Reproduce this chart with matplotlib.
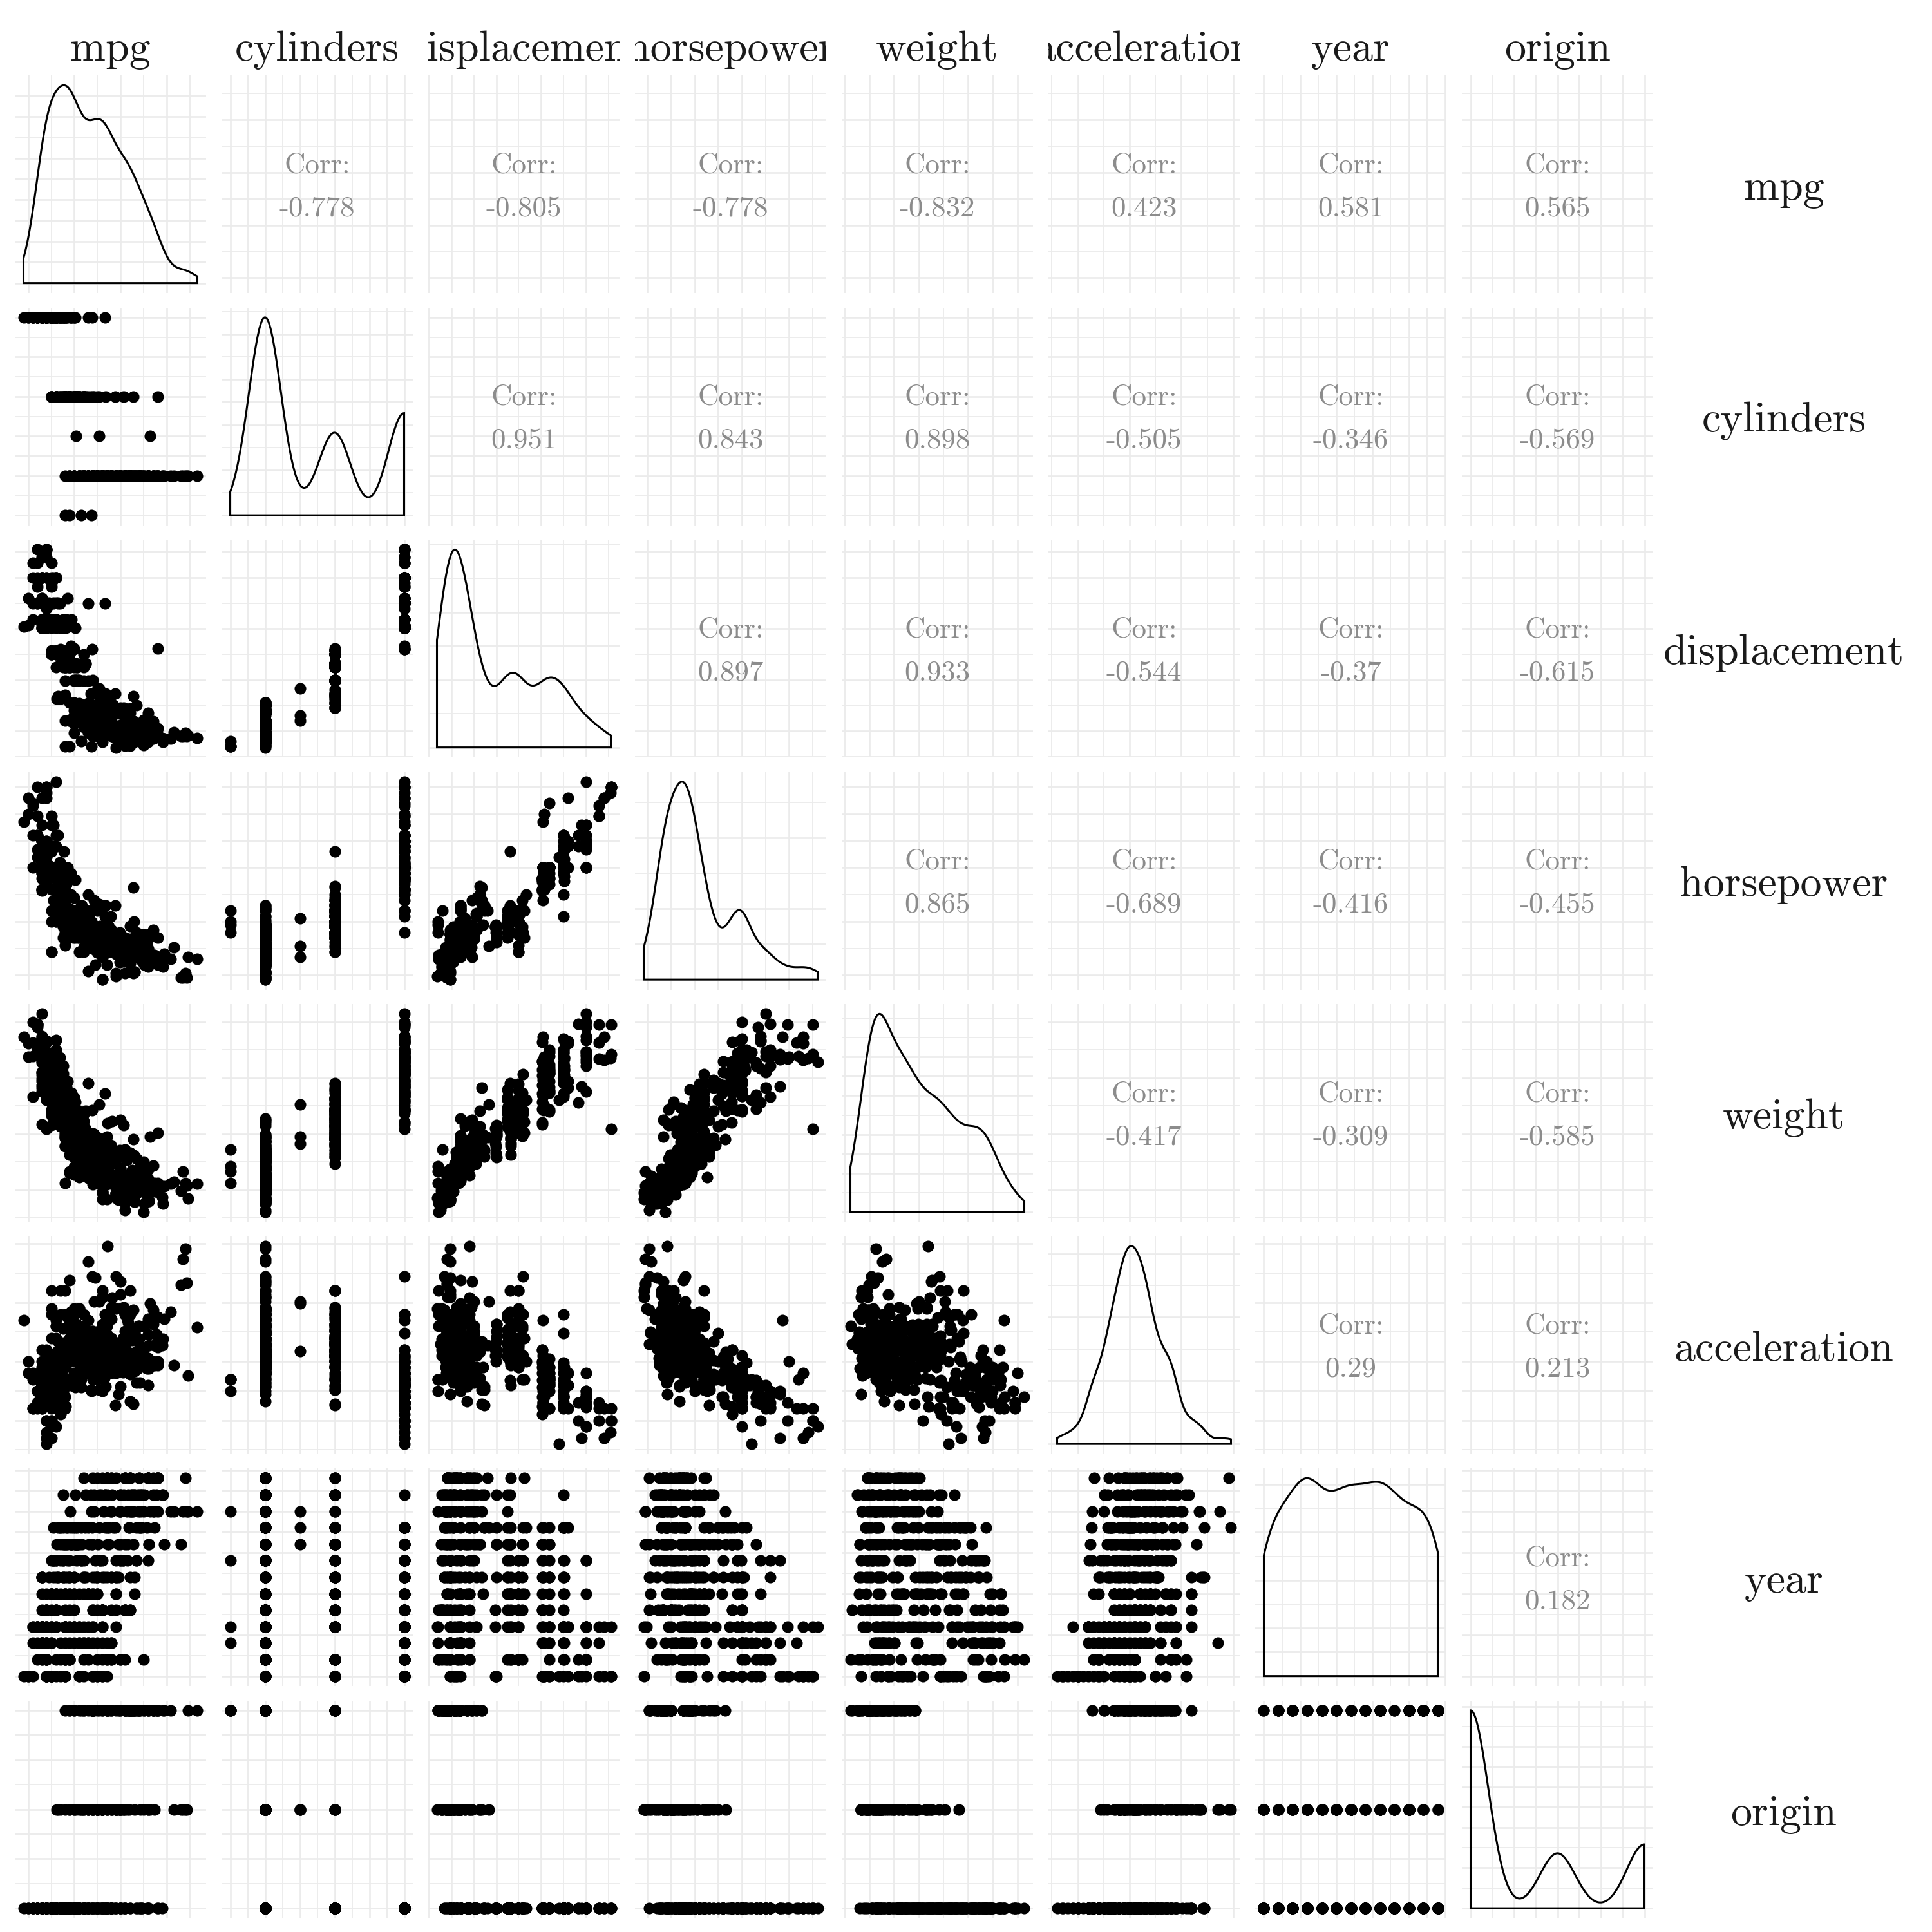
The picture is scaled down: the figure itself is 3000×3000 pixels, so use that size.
import numpy as np
import matplotlib
matplotlib.use('Agg')
import matplotlib.pyplot as plt
from matplotlib.ticker import MaxNLocator

# LaTeX-like look (Computer Modern ships with matplotlib)
plt.rcParams['font.family'] = 'cmr10'
plt.rcParams['axes.formatter.use_mathtext'] = True

#************************** data (Auto MPG, one line per model year) ***************************
variables = ['mpg', 'cylinders', 'displacement', 'horsepower', 'weight',
             'acceleration', 'year', 'origin']

mpg = [
    18,15,18,16,17,15,14,14,14,15,15,14,15,14,24,22,18,21,27,26,25,24,25,26,21,10,10,11,9,
    27,28,25,19,16,17,19,18,14,14,14,14,12,13,13,18,22,19,18,23,28,30,30,31,35,27,26,
    24,25,23,20,21,13,14,15,14,17,11,13,12,13,19,15,13,13,14,18,22,21,26,22,28,23,28,27,
    13,14,13,14,15,12,13,13,14,13,12,13,18,16,18,18,23,26,11,12,13,12,18,20,21,22,18,19,21,26,15,16,29,24,20,19,15,24,20,11,
    20,19,15,31,26,32,25,16,16,18,16,13,14,14,14,29,26,26,31,32,28,24,26,24,26,31,
    19,18,15,15,16,15,16,14,17,16,15,18,21,20,13,29,23,20,23,24,25,24,18,29,19,23,23,22,25,33,
    28,25,25,26,27,17.5,16,15.5,14.5,22,22,24,22.5,29,24.5,29,33,20,18,18.5,17.5,29.5,32,28,26.5,20,13,19,19,16.5,16.5,13,13,13,
    31.5,30,36,25.5,33.5,17.5,17,15.5,15,17.5,20.5,19,18.5,16,15.5,15.5,16,29,24.5,26,25.5,30.5,33.5,30,30.5,22,21.5,21.5,
    43.1,36.1,32.8,39.4,36.1,19.9,19.4,20.2,19.2,20.5,20.2,25.1,20.5,19.4,20.6,20.8,18.6,18.1,19.2,17.7,18.1,17.5,30,27.5,27.2,30.9,21.1,23.2,23.8,23.9,20.3,17,21.6,16.2,31.5,29.5,
    21.5,19.8,22.3,20.2,20.6,17,17.6,16.5,18.2,16.9,15.5,19.2,18.5,31.9,34.1,35.7,27.4,25.4,23,27.2,23.9,34.2,34.5,31.8,37.3,28.4,28.8,26.8,33.5,
    41.5,38.1,32.1,37.2,28,26.4,24.3,19.1,34.3,29.8,31.3,37,32.2,46.6,27.9,40.8,44.3,43.4,36.4,30,44.6,33.8,29.8,32.7,23.7,35,32.4,
    27.2,26.6,25.8,23.5,30,39.1,39,35.1,32.3,37,37.7,34.1,34.7,34.4,29.9,33,33.7,32.4,32.9,31.6,28.1,30.7,25.4,24.2,22.4,26.6,20.2,17.6,
    28,27,34,31,29,27,24,36,37,31,38,36,36,36,34,38,32,38,25,38,26,22,32,36,27,27,44,32,28,31]

cylinders = [
    8,8,8,8,8,8,8,8,8,8,8,8,8,8,4,6,6,6,4,4,4,4,4,4,6,8,8,8,8,
    4,4,4,6,6,6,6,6,8,8,8,8,8,8,8,6,4,6,6,4,4,4,4,4,4,4,4,
    4,4,4,4,4,8,8,8,8,8,8,8,8,8,3,8,8,8,8,4,4,4,4,4,4,4,4,4,
    8,8,8,8,8,8,8,8,8,8,8,8,6,6,6,6,6,4,8,8,8,8,6,4,4,4,3,4,6,4,8,8,4,4,4,4,8,4,6,8,
    6,6,6,4,4,4,4,6,6,6,8,8,8,8,8,4,4,4,4,4,4,4,4,4,4,4,
    6,6,6,6,8,8,8,8,6,6,6,6,6,8,8,4,4,6,4,4,4,4,6,4,6,4,4,4,4,4,
    4,4,4,4,4,8,8,8,8,6,6,6,6,4,4,4,4,6,6,6,6,4,4,4,4,4,8,4,6,6,8,8,8,8,
    4,4,4,4,4,8,8,8,8,6,6,6,6,8,8,8,8,4,4,4,4,4,4,4,4,6,4,3,
    4,4,4,4,4,8,8,8,6,6,6,4,6,6,6,6,6,6,8,6,8,8,4,4,4,4,4,4,4,4,5,6,4,6,4,4,
    6,6,4,6,6,8,8,8,8,8,8,8,8,4,4,4,4,5,8,4,8,4,4,4,4,4,6,6,4,
    4,4,4,4,4,4,4,6,4,4,4,4,4,4,4,4,4,4,5,4,4,4,4,6,3,4,4,
    4,4,4,6,4,4,4,4,4,4,4,4,4,4,4,4,4,4,4,4,4,6,6,6,6,8,6,6,
    4,4,4,4,4,4,4,4,4,4,4,4,4,4,4,4,4,4,6,6,4,6,4,4,4,4,4,4,4,4]

displacement = [
    307,350,318,304,302,429,454,440,455,390,383,340,400,455,113,198,199,200,97,97,110,107,104,121,199,360,307,318,304,
    97,140,113,232,225,250,250,232,350,400,351,318,383,400,400,258,140,250,250,122,116,79,88,71,72,97,91,
    113,97.5,97,140,122,350,400,318,351,304,429,350,350,400,70,304,307,302,318,121,121,120,96,122,97,120,98,97,
    350,304,350,302,318,429,400,351,318,440,455,360,225,250,232,250,198,97,400,400,360,350,232,97,140,108,70,122,155,98,350,400,68,116,114,121,318,121,156,350,
    198,232,250,79,122,71,140,250,258,225,302,350,318,302,304,98,79,97,76,83,90,90,116,120,108,79,
    225,250,250,250,400,350,318,351,231,250,258,225,231,262,302,97,140,232,140,134,90,119,171,90,232,115,120,121,121,91,
    107,116,140,98,101,305,318,304,351,225,250,200,232,85,98,90,91,225,250,250,258,97,85,97,140,130,318,120,156,168,350,350,302,318,
    98,111,79,122,85,305,260,318,302,250,231,225,250,400,350,400,351,97,151,97,140,98,98,97,97,146,121,80,
    90,98,78,85,91,260,318,302,231,200,200,140,225,232,231,200,225,258,305,231,302,318,98,134,119,105,134,156,151,119,131,163,121,163,89,98,
    231,200,140,232,225,305,302,351,318,350,351,267,360,89,86,98,121,183,350,141,260,105,105,85,91,151,173,173,151,
    98,89,98,86,151,140,151,225,97,134,120,119,108,86,156,85,90,90,121,146,91,97,89,168,70,122,107,
    135,151,156,173,135,79,86,81,97,85,89,91,105,98,98,105,107,108,119,120,141,145,168,146,231,350,200,225,
    112,112,112,112,135,151,140,105,91,91,105,98,120,107,108,91,91,91,181,262,156,232,144,135,151,140,97,135,120,119]

horsepower = [
    130,165,150,150,140,198,220,215,225,190,170,160,150,225,95,95,97,85,88,46,87,90,95,113,90,215,200,210,193,
    88,90,95,100,105,100,88,100,165,175,153,150,180,170,175,110,72,100,88,86,90,70,76,65,69,60,70,
    95,80,54,90,86,165,175,150,153,150,208,155,160,190,97,150,130,140,150,112,76,87,69,86,92,97,80,88,
    175,150,145,137,150,198,150,158,150,215,225,175,105,100,100,88,95,46,150,167,170,180,100,88,72,94,90,85,107,90,145,230,49,75,91,112,150,110,122,180,
    95,100,100,67,80,65,75,100,110,105,140,150,150,140,150,83,67,78,52,61,75,75,75,97,93,67,
    95,105,72,72,170,145,150,148,110,105,110,95,110,110,129,75,83,100,78,96,71,97,97,70,90,95,88,98,115,53,
    86,81,92,79,83,140,150,120,152,100,105,81,90,52,60,70,53,100,78,110,95,71,70,75,72,102,150,88,108,120,180,145,130,150,
    68,80,58,96,70,145,110,145,130,110,105,100,98,180,170,190,149,78,88,75,89,63,83,67,78,97,110,110,
    48,66,52,70,60,110,140,139,105,95,85,88,100,90,105,85,110,120,145,165,139,140,68,95,97,75,95,105,85,97,103,125,115,133,71,68,
    115,85,88,90,110,130,129,138,135,155,142,125,150,71,65,80,80,77,125,71,90,70,70,65,69,90,115,115,90,
    76,60,70,65,90,88,90,90,78,90,75,92,75,65,105,65,48,48,67,67,67,67,62,132,100,88,72,
    84,84,92,110,84,58,64,60,67,65,62,68,63,65,65,74,75,75,100,74,80,76,116,120,110,105,88,85,
    88,88,88,85,84,90,92,74,68,68,63,70,88,75,70,67,67,67,110,85,92,112,96,84,90,86,52,84,79,82]

weight = [
    3504,3693,3436,3433,3449,4341,4354,4312,4425,3850,3563,3609,3761,3086,2372,2833,2774,2587,2130,1835,2672,2430,2375,2234,2648,4615,4376,4382,4732,
    2130,2264,2228,2634,3439,3329,3302,3288,4209,4464,4154,4096,4955,4746,5140,2962,2408,3282,3139,2220,2123,2074,2065,1773,1613,1834,1955,
    2278,2126,2254,2408,2226,4274,4385,4135,4129,3672,4633,4502,4456,4422,2330,3892,4098,4294,4077,2933,2511,2979,2189,2395,2288,2506,2164,2100,
    4100,3672,3988,4042,3777,4952,4464,4363,4237,4735,4951,3821,3121,3278,2945,3021,2904,1950,4997,4906,4654,4499,2789,2279,2401,2379,2124,2310,2472,2265,4082,4278,1867,2158,2582,2868,3399,2660,2807,3664,
    3102,2901,3336,1950,2451,1836,2542,3781,3632,3613,4141,4699,4457,4638,4257,2219,1963,2300,1649,2003,2125,2108,2246,2489,2391,2000,
    3264,3459,3432,3158,4668,4440,4498,4657,3907,3897,3730,3785,3039,3221,3169,2171,2639,2914,2592,2702,2223,2545,2984,1937,3211,2694,2957,2945,2671,1795,
    2464,2220,2572,2255,2202,4215,4190,3962,4215,3233,3353,3012,3085,2035,2164,1937,1795,3651,3574,3645,3193,1825,1990,2155,2565,3150,3940,3270,2930,3820,4380,4055,3870,3755,
    2045,2155,1825,2300,1945,3880,4060,4140,4295,3520,3425,3630,3525,4220,4165,4325,4335,1940,2740,2265,2755,2051,2075,1985,2190,2815,2600,2720,
    1985,1800,1985,2070,1800,3365,3735,3570,3535,3155,2965,2720,3430,3210,3380,3070,3620,3410,3425,3445,3205,4080,2155,2560,2300,2230,2515,2745,2855,2405,2830,3140,2795,3410,1990,2135,
    3245,2990,2890,3265,3360,3840,3725,3955,3830,4360,4054,3605,3940,1925,1975,1915,2670,3530,3900,3190,3420,2200,2150,2020,2130,2670,2595,2700,2556,
    2144,1968,2120,2019,2678,2870,3003,3381,2188,2711,2542,2434,2265,2110,2800,2110,2085,2335,2950,3250,1850,2145,1845,2910,2420,2500,2290,
    2490,2635,2620,2725,2385,1755,1875,1760,2065,1975,2050,1985,2215,2045,2380,2190,2210,2350,2615,2635,3230,3160,2900,2930,3415,3725,3060,3465,
    2605,2640,2395,2575,2525,2735,2865,1980,2025,1970,2125,2125,2160,2205,2245,1965,1965,1995,2945,3015,2585,2835,2665,2370,2950,2790,2130,2295,2625,2720]

acceleration = [
    12,11.5,11,12,10.5,10,9,8.5,10,8.5,10,8,9.5,10,15,15.5,15.5,16,14.5,20.5,17.5,14.5,17.5,12.5,15,14,15,13.5,18.5,
    14.5,15.5,14,13,15.5,15.5,15.5,15.5,12,11.5,13.5,13,11.5,12,12,13.5,19,15,14.5,14,14,19.5,14.5,19,18,19,20.5,
    15.5,17,23.5,19.5,16.5,12,12,13.5,13,11.5,11,13.5,13.5,12.5,13.5,12.5,14,16,14,14.5,18,19.5,18,16,17,14.5,15,16.5,
    13,11.5,13,14.5,12.5,11.5,12,13,14.5,11,11,11,16.5,18,16,16.5,16,21,14,12.5,13,12.5,15,19,19.5,16.5,13.5,18.5,14,15.5,13,9.5,19.5,15.5,14,15.5,11,14,13.5,11,
    16.5,16,17,19,16.5,21,17,17,18,16.5,14,14.5,13.5,16,15.5,16.5,15.5,14.5,16.5,19,14.5,15.5,14,15,15.5,16,
    16,16,21,19.5,11.5,14,14.5,13.5,21,18.5,19,19,15,13.5,12,16,17,16,18.5,13.5,16.5,17,14.5,14,17,15,17,14.5,13.5,17.5,
    15.5,16.9,14.9,17.7,15.3,13,13,13.9,12.8,15.4,14.5,17.6,17.6,22.2,22.1,14.2,17.4,17.7,21,16.2,17.8,12.2,17,16.4,13.6,15.7,13.2,21.9,15.5,16.7,12.1,12,15,14,
    18.5,14.8,18.6,15.5,16.8,12.5,19,13.7,14.9,16.4,16.9,17.7,19,11.1,11.4,12.2,14.5,14.5,16,18.2,15.8,17,15.9,16.4,14.1,14.5,12.8,13.5,
    21.5,14.4,19.4,18.6,16.4,15.5,13.2,12.8,19.2,18.2,15.8,15.4,17.2,17.2,15.8,16.7,18.7,15.1,13.2,13.4,11.2,13.7,16.5,14.2,14.7,14.5,14.8,16.7,17.6,14.9,15.9,13.6,15.7,15.8,14.9,16.6,
    15.4,18.2,17.3,18.2,16.6,15.4,13.4,13.2,15.2,14.9,14.3,15,13,14,15.2,14.4,15,20.1,17.4,24.8,22.2,13.2,14.9,19.2,14.7,16,11.3,12.9,13.2,
    14.7,18.8,15.5,16.4,16.5,18.1,20.1,18.7,15.8,15.5,17.5,15,15.2,17.9,14.4,19.2,21.7,23.7,19.9,21.8,13.8,18,15.3,11.4,12.5,15.1,17,
    15.7,16.4,14.4,12.6,12.9,16.9,16.4,16.1,17.8,19.4,17.3,16,14.9,16.2,20.7,14.2,14.4,16.8,14.8,18.3,20.4,19.6,12.6,13.8,15.8,19,17.1,16.6,
    19.6,18.6,18,16.2,16,18,16.4,15.3,18.2,17.6,14.7,17.3,14.5,14.5,16.9,15,15.7,16.2,16.4,17,14.5,14.7,13.9,13,17.3,15.6,24.6,11.6,18.6,19.4]

origin = [
    1,1,1,1,1,1,1,1,1,1,1,1,1,1,3,1,1,1,3,2,2,2,2,2,1,1,1,1,1,
    3,1,3,1,1,1,1,1,1,1,1,1,1,1,1,1,1,1,1,1,2,2,2,3,3,2,1,
    3,1,2,1,1,1,1,1,1,1,1,1,1,1,3,1,1,1,1,2,2,2,2,1,3,3,1,3,
    1,1,1,1,1,1,1,1,1,1,1,1,1,1,1,1,1,2,1,1,1,1,1,3,1,3,3,1,1,2,1,1,2,2,2,2,1,2,3,1,
    1,1,1,3,1,3,1,1,1,1,1,1,1,1,1,2,2,2,3,3,1,2,2,3,3,2,
    1,1,1,1,1,1,1,1,1,1,1,1,1,1,1,3,1,1,1,3,2,3,1,2,1,2,2,2,2,3,
    2,2,1,1,2,1,1,1,1,1,1,1,1,1,1,2,3,1,1,1,1,2,3,3,1,2,1,2,3,2,1,1,1,1,
    3,1,2,1,3,1,1,1,1,1,1,1,1,1,1,1,1,2,1,3,1,1,1,3,2,3,2,3,
    2,1,3,3,3,1,1,1,1,1,1,1,1,1,1,1,1,1,1,1,1,1,1,3,3,1,3,1,1,3,2,2,2,2,2,3,
    1,1,1,1,1,1,1,1,1,1,1,1,1,2,3,1,1,2,1,2,1,1,1,3,2,1,1,1,1,
    2,3,1,3,1,1,1,1,2,3,3,3,3,3,1,3,2,2,2,2,3,3,2,3,3,2,3,
    1,1,1,1,1,3,1,3,3,3,3,3,1,1,1,2,3,3,3,3,2,2,3,3,1,1,1,1,
    1,1,1,1,1,1,1,2,3,3,1,1,3,3,3,3,3,3,1,1,1,1,3,1,1,1,2,1,1,1]

model_years = [70, 71, 72, 73, 74, 75, 76, 77, 78, 79, 80, 81, 82]
cars_per_year = [29, 27, 28, 40, 26, 30, 34, 28, 36, 29, 27, 28, 30]
year = np.repeat(model_years, cars_per_year)

# correlation labels as printed in the upper triangle (row by row)
corr_labels = [
    ['-0.778', '-0.805', '-0.778', '-0.832', '0.423', '0.581', '0.565'],
    ['0.951', '0.843', '0.898', '-0.505', '-0.346', '-0.569'],
    ['0.897', '0.933', '-0.544', '-0.37', '-0.615'],
    ['0.865', '-0.689', '-0.416', '-0.455'],
    ['-0.417', '-0.309', '-0.585'],
    ['0.29', '0.213'],
    ['0.182'],
]

# major grid breaks of each variable's scale
major_breaks = [
    [10, 20, 30, 40],
    [3, 4, 5, 6, 7, 8],
    [100, 200, 300, 400],
    [50, 100, 150, 200],
    [2000, 3000, 4000, 5000],
    [10, 15, 20, 25],
    [70, 72.5, 75, 77.5, 80, 82.5],
    [1, 1.5, 2, 2.5, 3],
]

data = [np.asarray(v, float) for v in
        [mpg, cylinders, displacement, horsepower, weight, acceleration, year, origin]]

#************************** helpers ***************************
def expanded(v):
    lo, hi = v.min(), v.max()
    pad = 0.05 * (hi - lo)
    return lo - pad, hi + pad

def minor_breaks(major, lo, hi):
    step = major[1] - major[0]
    cands = [major[0] - step / 2] + [m + step / 2 for m in major]
    return [c for c in cands if lo <= c <= hi]

def density(v):
    # gaussian kernel, bandwidth like R's bw.nrd0
    n = len(v)
    sd = v.std(ddof=1)
    q75, q25 = np.percentile(v, [75, 25])
    bw = 0.9 * min(sd, (q75 - q25) / 1.34) * n ** -0.2
    xs = np.linspace(v.min(), v.max(), 512)
    ys = np.exp(-0.5 * ((xs[:, None] - v[None, :]) / bw) ** 2).sum(axis=1)
    ys /= n * bw * np.sqrt(2 * np.pi)
    return xs, ys

def style_panel(ax, xmaj, xlim, ymaj, ylim):
    ax.set_xlim(*xlim)
    ax.set_ylim(*ylim)
    ax.set_xticks(xmaj)
    ax.set_xticks(minor_breaks(xmaj, *xlim), minor=True)
    ax.set_yticks(ymaj)
    ax.set_yticks(minor_breaks(ymaj, *ylim), minor=True)
    ax.grid(True, which='major', color='#EBEBEB', lw=1.9)
    ax.grid(True, which='minor', color='#EBEBEB', lw=1.3)
    ax.tick_params(which='both', length=0, labelbottom=False, labelleft=False)
    for s in ax.spines.values():
        s.set_visible(False)
    ax.set_axisbelow(True)

#************************** layout (pixels of a 3000 px figure) ***************************
W = 3000.0
left0, pitch_x, pw = 23, 321, 297
top0, pitch_y, ph = 117, 360.5, 338
strip_color = '#1A1A1A'

fig = plt.figure(figsize=(30, 30), dpi=100)
nv = len(variables)
limits = [expanded(v) for v in data]

for i in range(nv):          # row -> y variable
    for j in range(nv):      # column -> x variable
        left = left0 + pitch_x * j
        top = top0 + pitch_y * i
        ax = fig.add_axes([left / W, 1 - (top + ph) / W, pw / W, ph / W])
        if i == j:
            xs, ys = density(data[j])
            ymax = ys.max()
            ylim = (-0.05 * ymax, 1.05 * ymax)
            yticks = MaxNLocator(nbins=6, steps=[1, 2, 2.5, 5, 10]).tick_values(*ylim)
            yticks = [t for t in yticks if ylim[0] <= t <= ylim[1]]
            style_panel(ax, major_breaks[j], limits[j], yticks, ylim)
            px = np.concatenate([[xs[0]], xs, [xs[-1]]])
            py = np.concatenate([[0], ys, [0]])
            ax.fill(px, py, facecolor='none', edgecolor='black', lw=2.2)
        elif i > j:
            style_panel(ax, major_breaks[j], limits[j], major_breaks[i], limits[i])
            ax.scatter(data[j], data[i], s=170, c='black', linewidths=0)
        else:
            style_panel(ax, major_breaks[j], limits[j], major_breaks[i], limits[i])
            ax.text(0.5, 0.553, 'Corr:', transform=ax.transAxes, ha='center',
                    va='baseline', fontsize=32.4, color='#8C8C8C')
            ax.text(0.5, 0.355, corr_labels[i][j - i - 1], transform=ax.transAxes,
                    ha='center', va='baseline', fontsize=32.4, color='#8C8C8C')

# column strips on top (clipped to the panel width like ggplot strips)
for j, name in enumerate(variables):
    left = left0 + pitch_x * j
    sax = fig.add_axes([left / W, 1 - top0 / W, pw / W, top0 / W])
    sax.axis('off')
    t = sax.text(0.5, (top0 - 94) / top0, name, transform=sax.transAxes,
                 ha='center', va='baseline', fontsize=47.5, color=strip_color,
                 clip_on=True)
    t.set_clip_box(sax.bbox)

# row strips on the right
for i, name in enumerate(variables):
    top = top0 + pitch_y * i
    fig.text(2770 / W, 1 - (top + 193) / W, name, ha='center', va='baseline',
             fontsize=47.5, color=strip_color)

plt.savefig('out.png', dpi=100)
